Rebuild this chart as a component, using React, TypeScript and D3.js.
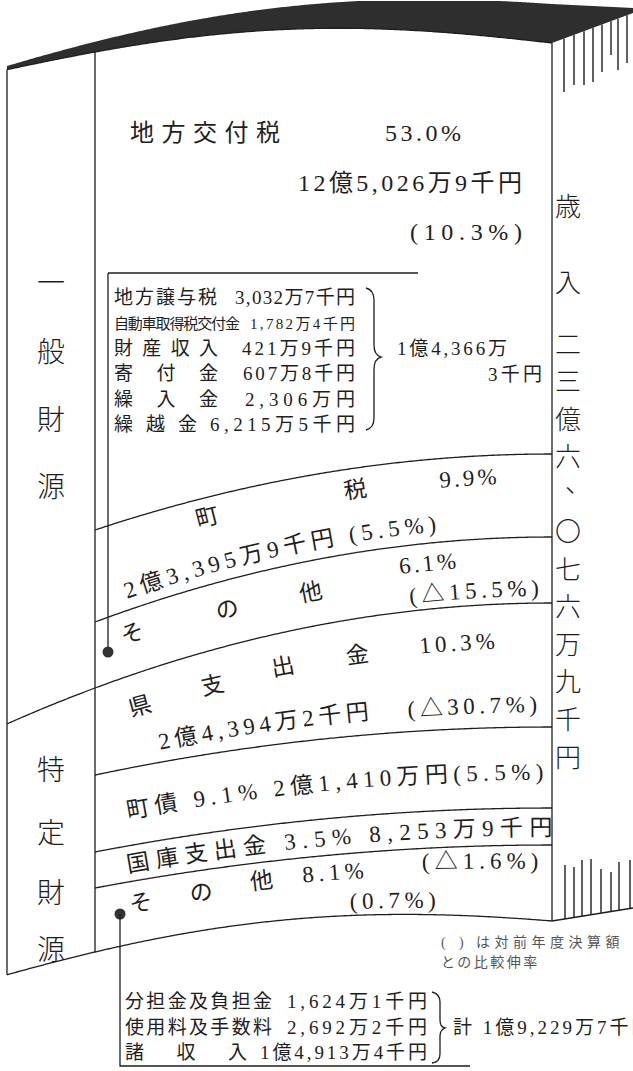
import React from 'react';
import * as d3 from 'd3';

// ---------------- data ----------------
const groupNames = ['一般財源', '特定財源'];
const categories = ['地方交付税', '町税', 'その他', '県支出金', '町債', '国庫支出金', 'その他'];
const shares = [53.0, 9.9, 6.1, 10.3, 9.1, 3.5, 8.1];
const amounts = ['12億5,026万9千円', '2億3,395万9千円', '1億4,366万3千円', '2億4,394万2千円', '2億1,410万円', '8,253万9千円', '1億9,229万7千円'];
const growthRates = ['10.3%', '5.5%', '△15.5%', '△30.7%', '5.5%', '△1.6%', '0.7%'];
const totalTitle = '歳入';
const totalAmount = '二三億六、〇七六万九千円';
const generalOtherItems = ['地方譲与税', '自動車取得税交付金', '財産収入', '寄付金', '繰入金', '繰越金'];
const generalOtherAmounts = ['3,032万7千円', '1,782万4千円', '421万9千円', '607万8千円', '2,306万円', '6,215万5千円'];
const specificOtherItems = ['分担金及負担金', '使用料及手数料', '諸収入'];
const specificOtherAmounts = ['1,624万1千円', '2,692万2千円', '1億4,913万4千円'];
const noteLines = ['は対前年度決算額', 'との比較伸率'];

// ---------------- layout ----------------
const W = 633, H = 1071;
const XL = 7, XI = 95, XR = 552;
const cum = [0, ...Array.from(d3.cumsum(shares))];
const yInner = d3.scaleLinear().domain(cum).range([52, 530, 622, 688, 775, 852, 888, 952]);
const yRight = d3.scaleLinear().domain(cum).range([43, 454, 537, 603, 727, 808, 845, 921]);
const span = XR - XL;
const T = (x: number) => (x - XL) / span;
const t95 = T(XI), q95 = (1 - t95) ** 2, s95 = Math.sin(Math.PI * t95);

function boundaryY(i: number, x: number) {
  const c = cum[i];
  const yr = yRight(c), yi = yInner(c);
  const B = i === 0 ? 20 : i === cum.length - 1 ? 14 : 0;
  const yl = yr + (yi - yr + B * s95) / q95;
  const t = T(x);
  return yr + (yl - yr) * (1 - t) ** 2 - B * Math.sin(Math.PI * t);
}
function darkTopY(x: number) {
  const t = T(x);
  return Math.max(1, 4 + 62 * (1 - t) ** 2 - 12 * Math.sin(Math.PI * t));
}

const line = d3.line<[number, number]>().x(d => d[0]).y(d => d[1]);
const xsFull = d3.range(XL, XR + 0.01, 2).concat([XR]);
const xsInner = d3.range(XI, XR + 0.01, 2).concat([XR]);

function guide(band: number, frac: number): [number, number][] {
  const pts = xsInner.map(x => {
    const a = boundaryY(band, x), b = boundaryY(band + 1, x);
    return [x, a + frac * (b - a)] as [number, number];
  });
  const last = pts[pts.length - 1];
  pts.push([last[0] + 80, last[1]]);
  return pts;
}
function offsetAt(pts: [number, number][], x: number) {
  let L = 0;
  for (let i = 1; i < pts.length; i++) {
    const [x0, y0] = pts[i - 1], [x1, y1] = pts[i];
    const seg = Math.hypot(x1 - x0, y1 - y0);
    if (x1 >= x) return L + ((x - x0) / (x1 - x0)) * seg;
    L += seg;
  }
  return L;
}

const pct = (v: number) => `${v.toFixed(1)}%`;
const paren = (s: string) => `(${s})`;

type PathLabel = { band: number; frac: number; x: number; text: string; size?: number; ls?: number };
const pathLabels: PathLabel[] = [
  { band: 1, frac: 0.32, x: 198, text: categories[1][0] },
  { band: 1, frac: 0.35, x: 345, text: categories[1][1] },
  { band: 1, frac: 0.35, x: 440, text: pct(shares[1]), ls: 3 },
  { band: 1, frac: 0.87, x: 127, text: `${amounts[1]} ${paren(growthRates[1])}`, ls: 4.8 },
  { band: 2, frac: 0.5, x: 124, text: categories[2][0] },
  { band: 2, frac: 0.57, x: 218, text: categories[2][1] },
  { band: 2, frac: 0.6, x: 301, text: categories[2][2] },
  { band: 2, frac: 0.42, x: 400, text: pct(shares[2]), ls: 3 },
  { band: 2, frac: 0.89, x: 410, text: paren(growthRates[2]), ls: 4.5 },
  { band: 3, frac: 0.45, x: 131, text: categories[3][0] },
  { band: 3, frac: 0.42, x: 203, text: categories[3][1] },
  { band: 3, frac: 0.38, x: 273, text: categories[3][2] },
  { band: 3, frac: 0.38, x: 347, text: categories[3][3] },
  { band: 3, frac: 0.36, x: 420, text: pct(shares[3]), ls: 4 },
  { band: 3, frac: 0.87, x: 160, text: amounts[3], ls: 4.5 },
  { band: 3, frac: 0.88, x: 408, text: paren(growthRates[3]), ls: 4.5 },
  { band: 4, frac: 0.65, x: 128, text: `${categories[4]} ${pct(shares[4])} ${amounts[4]}${paren(growthRates[4])}`, ls: 5.3 },
  { band: 5, frac: 0.74, x: 128, text: `${categories[5]} ${pct(shares[5])} ${amounts[5]}`, ls: 6.3 },
  { band: 6, frac: 0.5, x: 131, text: categories[6][0] },
  { band: 6, frac: 0.5, x: 191, text: categories[6][1] },
  { band: 6, frac: 0.44, x: 251, text: categories[6][2] },
  { band: 6, frac: 0.41, x: 303, text: pct(shares[6]), ls: 4.5 },
  { band: 6, frac: 0.32, x: 422, text: paren(growthRates[5]), ls: 5 },
  { band: 6, frac: 0.9, x: 350, text: paren(growthRates[6]), ls: 4.5 },
];

const fringeTopX = [564, 574, 584, 593, 602, 611, 618, 627];
const fringeTopEnd = [92, 85, 85, 82, 72, 55, 70, 63];
const fringeBotX = [565, 574, 582, 591, 601, 611, 619, 630];
const fringeBotEnd = [865, 867, 860, 859, 869, 872, 862, 860];

const FONT = '"Liberation Serif", "Noto Sans CJK JP", serif';
const INK = '#1e1e1e';

export default function App() {
  const topFaceY = (x: number) => 43 + (13 - 43) * (x - XR) / 81;
  const botFaceY = (x: number) => 921 + (908 - 921) * (x - XR) / 81;

  const darkPts: [number, number][] = [
    ...xsFull.map(x => [x, darkTopY(x)] as [number, number]),
    [633, 8], [633, 13], [XR, boundaryY(0, XR)],
    ...xsFull.slice().reverse().map(x => [x, boundaryY(0, x)] as [number, number]),
  ];

  const guides = pathLabels.map(l => guide(l.band, l.frac));

  const rowLabelEnd = [217, 240, 218, 218, 218, 197];
  const rowAmtStart = [235, 250, 242, 243, 245, 210];
  const rowSize = [19, 15, 19, 19, 19, 19];

  const botLabelEnd = [272, 272, 247];
  const botAmtStart = [287, 287, 260];

  const otherSplit = amounts[2].indexOf('万') + 1;

  const leftChars1 = groupNames[0].split('');
  const leftChars2 = groupNames[1].split('');
  const leftY1 = [283, 352, 420, 487];
  const leftY2 = [770, 833, 893, 950];
  const totalChars = totalAmount.split('');
  const totalY = d3.scaleLinear().domain([0, totalChars.length - 1]).range([345, 758]);

  return (
    <svg width={W} height={H} viewBox={`0 0 ${W} ${H}`} style={{ position: 'absolute', left: 0, top: 0, background: '#fff' }} fontFamily={FONT}>
      <rect width={W} height={H} fill="#fff" />
      <defs>
        {guides.map((g, i) => <path key={i} id={`gd${i}`} d={line(g) || ''} fill="none" />)}
      </defs>

      {/* dark top band */}
      <path d={line(darkPts) + 'Z'} fill="#2e2e2e" />

      {/* fringe */}
      <g stroke={INK} strokeWidth={1.4}>
        {fringeTopX.map((x, i) => <line key={'ft' + i} x1={x} x2={x} y1={topFaceY(x)} y2={fringeTopEnd[i]} />)}
        {fringeBotX.map((x, i) => <line key={'fb' + i} x1={x} x2={x} y1={botFaceY(x)} y2={fringeBotEnd[i]} />)}
        <line x1={XR} y1={921} x2={633} y2={908} />
      </g>

      {/* frame */}
      <g stroke={INK} strokeWidth={1.3} fill="none">
        <line x1={XL} x2={XL} y1={boundaryY(0, XL)} y2={boundaryY(7, XL)} />
        <line x1={XI} x2={XI} y1={boundaryY(0, XI)} y2={boundaryY(7, XI)} />
        <line x1={XR} x2={XR} y1={boundaryY(0, XR)} y2={boundaryY(7, XR)} />
        <path d={line(xsFull.map(x => [x, boundaryY(0, x)] as [number, number])) || ''} />
        <path d={line(xsFull.map(x => [x, boundaryY(3, x)] as [number, number])) || ''} />
        <path d={line(xsFull.map(x => [x, boundaryY(7, x)] as [number, number])) || ''} />
        {[1, 2, 4, 5, 6].map(i => (
          <path key={i} d={line(xsInner.map(x => [x, boundaryY(i, x)] as [number, number])) || ''} />
        ))}
      </g>

      {/* left group labels */}
      <g fontSize={28} fill={INK} textAnchor="middle" dominantBaseline="central" fontWeight={300}>
        {leftChars1.map((c, i) => <text key={'l1' + i} x={51} y={leftY1[i]}>{c}</text>)}
        {leftChars2.map((c, i) => <text key={'l2' + i} x={51} y={leftY2[i]}>{c}</text>)}
      </g>

      {/* right total */}
      <g fontSize={26} fill={INK} textAnchor="middle" dominantBaseline="central" fontWeight={300}>
        <text x={568} y={207}>{totalTitle[0]}</text>
        <text x={568} y={283}>{totalTitle[1]}</text>
        {totalChars.map((c, i) => (
          <text key={'t' + i} x={c === '、' ? 578 : 568} y={c === '、' ? totalY(i) - 12 : totalY(i)}>{c}</text>
        ))}
      </g>

      {/* top block: 地方交付税 */}
      <g fill={INK} fontSize={24}>
        <text x={130} y={141} textLength={150} lengthAdjust="spacing">{categories[0]}</text>
        <text x={385} y={141} textLength={76} lengthAdjust="spacing">{pct(shares[0])}</text>
        <text x={298} y={191} textLength={224} lengthAdjust="spacing">{amounts[0]}</text>
        <text x={410} y={240} textLength={112} lengthAdjust="spacing">{paren(growthRates[0])}</text>
      </g>

      {/* general "other" breakdown box */}
      <g stroke={INK} strokeWidth={1.3} fill="none">
        <line x1={108} y1={273} x2={418} y2={273} />
        <line x1={108} y1={273} x2={108} y2={652} />
        <path d="M366,288 Q374,290 374,300 L374,345 Q374,355 381,357 Q374,359 374,369 L374,418 Q374,428 366,430" />
      </g>
      <circle cx={108} cy={652} r={5.5} fill="#333" />
      <g fill={INK}>
        {generalOtherItems.map((s, i) => {
          const y = 304 + i * 25.4;
          return (
            <g key={'go' + i} fontSize={rowSize[i]}>
              <text x={114} y={y} textLength={rowLabelEnd[i] - 114} lengthAdjust="spacing">{s}</text>
              <text x={rowAmtStart[i]} y={y} textLength={355 - rowAmtStart[i]} lengthAdjust="spacing">{generalOtherAmounts[i]}</text>
            </g>
          );
        })}
        <text x={397} y={355} fontSize={19} textLength={110} lengthAdjust="spacing">{amounts[2].slice(0, otherSplit)}</text>
        <text x={488} y={381} fontSize={19} textLength={54} lengthAdjust="spacing">{amounts[2].slice(otherSplit)}</text>
      </g>

      {/* curved labels */}
      <g fill={INK}>
        {pathLabels.map((l, i) => (
          <text key={'pl' + i} fontSize={l.size ?? 23} letterSpacing={l.ls ?? 0}>
            <textPath href={`#gd${i}`} startOffset={offsetAt(guides[i], l.x)}>{l.text}</textPath>
          </text>
        ))}
      </g>

      {/* specific "other" breakdown */}
      <circle cx={120} cy={914} r={5.5} fill="#333" />
      <g stroke={INK} strokeWidth={1.3} fill="none">
        <polyline points="120,914 120,1066 470,1066" />
        <path d="M432,992 Q440,994 440,1002 L440,1020 Q440,1027 445,1028 Q440,1030 440,1036 L440,1054 Q440,1062 432,1063" />
      </g>
      <g fill={INK} fontSize={19}>
        {specificOtherItems.map((s, i) => {
          const y = 1008 + i * 25.5;
          return (
            <g key={'so' + i}>
              <text x={125} y={y} textLength={botLabelEnd[i] - 125} lengthAdjust="spacing">{s}</text>
              <text x={botAmtStart[i]} y={y} textLength={427 - botAmtStart[i]} lengthAdjust="spacing">{specificOtherAmounts[i]}</text>
            </g>
          );
        })}
        <text x={453} y={1034} letterSpacing={3}>{`計 ${amounts[6]}`}</text>
      </g>

      {/* note */}
      <g fill="#555" fontSize={14}>
        <text x={441} y={947}>(</text>
        <text x={459} y={947}>)</text>
        <text x={476} y={947} letterSpacing={4.5}>{noteLines[0]}</text>
        <text x={441} y={967} letterSpacing={2.5}>{noteLines[1]}</text>
      </g>
    </svg>
  );
}
